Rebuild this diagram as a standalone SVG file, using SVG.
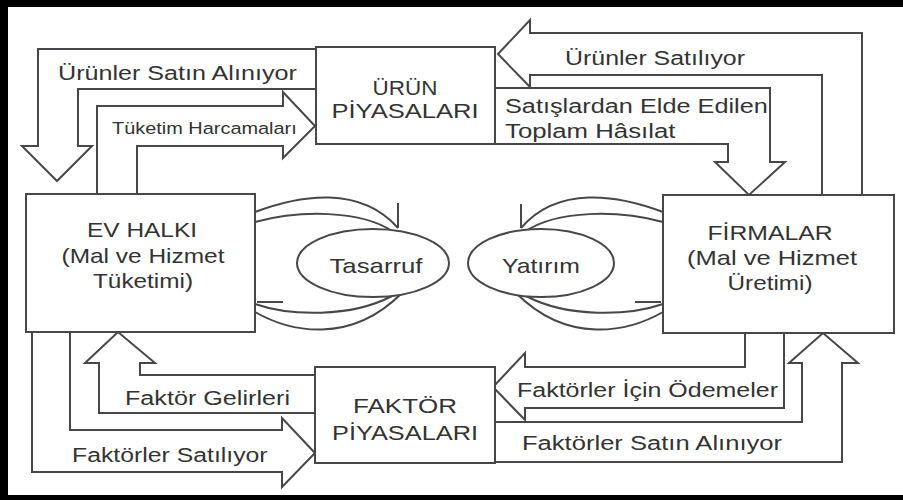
<svg xmlns="http://www.w3.org/2000/svg" width="903" height="500" viewBox="0 0 903 500">
<style>
.ln{fill:none;stroke:#474747;stroke-width:2;stroke-linejoin:miter}
.bx{fill:#fff;stroke:#474747;stroke-width:2}
.t{font-family:"Liberation Sans",Arial,sans-serif;fill:#333;font-size:21px}
.n{font-family:"Liberation Sans",Arial,sans-serif;fill:#333;font-size:20.5px;text-anchor:middle}
</style>
<rect width="903" height="500" fill="#fff"/>
<g id="frame" fill="#000">
<rect x="0" y="0" width="903" height="7"/>
<rect x="0" y="0" width="8" height="500"/>
<rect x="0" y="495" width="903" height="5"/>
</g>
<g id="connectors">
<path class="ln" d="M316,49 H38 V146 H22 L57,181 L92,146 H78 V89 H316"/>
<path class="ln" d="M97,194 V106 H283 V92 L315,126 L283,158 V146 H137 V194"/>
<path class="ln" d="M822,195 V75 H530 V87 L498,54 L530,20 V33 H862 V195"/>
<path class="ln" d="M495,88 H770 V162 H785 L749,195 L715,162 H728 V144 H495"/>
<path class="ln" d="M315,375 H140 V363 H155 L118,332 L85,363 H99 V413 H315"/>
<path class="ln" d="M32,332 V472 H282 V487 L315,453 L282,418 V430 H70 V332"/>
<path class="ln" d="M745,333 V367 H525 V353 L493,387 L525,420 V408 H784 V333"/>
<path class="ln" d="M495,422 H802 V363 H789 L823,333 L858,363 H842 V462 H495"/>
<path class="ln" d="M255,212 C300,195 360,185 398,228 M398,228 V203"/>
<path class="ln" d="M255,222 C300,210 360,210 392,231"/>
<path class="ln" d="M257,302 H283 M255,304 C290,316 350,318 392,296"/>
<path class="ln" d="M255,312 C290,332 350,345 402,293"/>
<path class="ln" d="M663,212 C618,195 558,185 521,228 M521,228 V204"/>
<path class="ln" d="M663,222 C618,210 558,210 526,231"/>
<path class="ln" d="M661,302 H635 M663,304 C628,316 568,318 526,296"/>
<path class="ln" d="M663,312 C628,332 568,345 516,293"/>
</g>
<g id="labels">
<text class="t" transform="translate(58,80) scale(1.2,1)" textLength="199" lengthAdjust="spacingAndGlyphs">Ürünler Satın Alınıyor</text>
<text class="t" transform="translate(112,134) scale(1.2,1)" style="font-size:17px" textLength="154" lengthAdjust="spacingAndGlyphs">Tüketim Harcamaları</text>
<text class="t" transform="translate(565,65) scale(1.2,1)" textLength="150" lengthAdjust="spacingAndGlyphs">Ürünler Satılıyor</text>
<text class="t" transform="translate(505,113) scale(1.2,1)" textLength="219" lengthAdjust="spacingAndGlyphs">Satışlardan Elde Edilen</text>
<text class="t" transform="translate(505,138) scale(1.2,1)" textLength="142" lengthAdjust="spacingAndGlyphs">Toplam Hâsılat</text>
<text class="t" transform="translate(125,405) scale(1.2,1)" textLength="137.5" lengthAdjust="spacingAndGlyphs">Faktör Gelirleri</text>
<text class="t" transform="translate(72,462) scale(1.2,1)" textLength="163" lengthAdjust="spacingAndGlyphs">Faktörler Satılıyor</text>
<text class="t" transform="translate(517,397) scale(1.2,1)" textLength="217.5" lengthAdjust="spacingAndGlyphs">Faktörler İçin Ödemeler</text>
<text class="t" transform="translate(522,450) scale(1.2,1)" textLength="216.7" lengthAdjust="spacingAndGlyphs">Faktörler Satın Alınıyor</text>
</g>
<g id="urun">
<rect class="bx" x="316" y="47" width="179" height="97"/>
<text class="n" transform="translate(405,95) scale(1.2,1)" textLength="54" lengthAdjust="spacingAndGlyphs">ÜRÜN</text>
<text class="n" transform="translate(405,118) scale(1.2,1)" textLength="122.5" lengthAdjust="spacingAndGlyphs">PİYASALARI</text>
</g>
<g id="evhalki">
<rect class="bx" x="26" y="194" width="229" height="138"/>
<text class="n" transform="translate(142,237) scale(1.2,1)" textLength="91.7" lengthAdjust="spacingAndGlyphs">EV HALKI</text>
<text class="n" transform="translate(143,263) scale(1.2,1)" textLength="135.8" lengthAdjust="spacingAndGlyphs">(Mal ve Hizmet</text>
<text class="n" transform="translate(143,288) scale(1.2,1)" textLength="83.3" lengthAdjust="spacingAndGlyphs">Tüketimi)</text>
</g>
<g id="firmalar">
<rect class="bx" x="663" y="195" width="231" height="138"/>
<text class="n" transform="translate(770,240) scale(1.2,1)" textLength="104.2" lengthAdjust="spacingAndGlyphs">FİRMALAR</text>
<text class="n" transform="translate(772,265) scale(1.2,1)" textLength="141.7" lengthAdjust="spacingAndGlyphs">(Mal ve Hizmet</text>
<text class="n" transform="translate(770,290) scale(1.2,1)" textLength="70.8" lengthAdjust="spacingAndGlyphs">Üretimi)</text>
</g>
<g id="faktor">
<rect class="bx" x="315" y="367" width="180" height="96"/>
<text class="n" transform="translate(405,413) scale(1.2,1)" textLength="86.7" lengthAdjust="spacingAndGlyphs">FAKTÖR</text>
<text class="n" transform="translate(405,440) scale(1.2,1)" textLength="121.7" lengthAdjust="spacingAndGlyphs">PİYASALARI</text>
</g>
<g id="tasarruf">
<ellipse class="bx" cx="373" cy="263" rx="76" ry="34"/>
<text class="n" transform="translate(376,273) scale(1.2,1)" textLength="77.5" lengthAdjust="spacingAndGlyphs">Tasarruf</text>
</g>
<g id="yatirim">
<ellipse class="bx" cx="541" cy="263" rx="73" ry="34"/>
<text class="n" transform="translate(541,273) scale(1.2,1)" textLength="65" lengthAdjust="spacingAndGlyphs">Yatırım</text>
</g>
</svg>
